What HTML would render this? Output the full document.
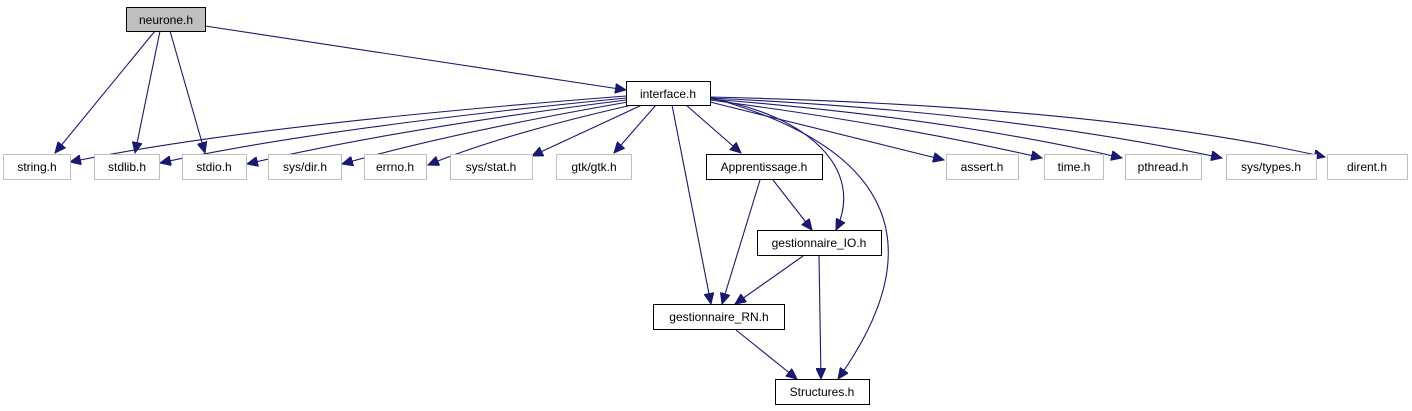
<!DOCTYPE html>
<html><head><meta charset="utf-8"><style>
html,body{margin:0;padding:0;background:#fff;}
svg{display:block;}
text{font-family:"Liberation Sans",sans-serif;font-size:12px;text-anchor:middle;fill:#000;}
</style></head><body>
<svg width="1412" height="411" viewBox="0 0 1412 411" xmlns="http://www.w3.org/2000/svg">
<defs>
<marker id="a" markerUnits="userSpaceOnUse" markerWidth="12" markerHeight="10" refX="11" refY="5" orient="auto">
<path d="M0,0 L11,5 L0,10 Z" fill="#191970" stroke="#191970"/>
</marker>
</defs>
<g fill="none" stroke="#191970" stroke-width="1.1" marker-end="url(#a)">
<path d="M155,31 L55,153"/>
<path d="M160,31 L135,153"/>
<path d="M170,31 L205,153"/>
<path d="M205,26 L626,90"/>
<path d="M626,96 Q250,125 70,162"/>
<path d="M626,98 Q320,128 160,163"/>
<path d="M626,100 Q390,130 247,164"/>
<path d="M628,102 Q450,133 342,164"/>
<path d="M632,105 Q500,135 428,165"/>
<path d="M642,105 L532,156"/>
<path d="M656,105 L614,153"/>
<path d="M672,105 L711,304"/>
<path d="M686,105 L741,153"/>
<path d="M708,98 C810,115 865,170 836,230"/>
<path d="M712,98 C900,150 930,250 838,379"/>
<path d="M710,102 L944,160"/>
<path d="M710,100 Q900,125 1042,158"/>
<path d="M710,99 Q950,118 1122,158"/>
<path d="M710,98 Q1010,112 1222,158"/>
<path d="M710,97 Q1100,106 1325,157"/>
<path d="M760,180 L722,304"/>
<path d="M773,180 L812,230"/>
<path d="M803,256 L735,304"/>
<path d="M819,256 L821,379"/>
<path d="M736,330 L797,379"/>
</g>
<g stroke-width="1">
<rect x="126.5" y="7.5" width="79" height="24" fill="#bfbfbf" stroke="#000"/>
<rect x="626.5" y="81.5" width="84" height="24" fill="#fff" stroke="#000"/>
<rect x="706.5" y="154.5" width="116" height="25" fill="#fff" stroke="#000"/>
<rect x="757.5" y="230.5" width="124" height="25" fill="#fff" stroke="#000"/>
<rect x="653.5" y="304.5" width="131" height="25" fill="#fff" stroke="#000"/>
<rect x="775.5" y="379.5" width="94" height="25" fill="#fff" stroke="#000"/>
<g fill="#fff" stroke="#bfbfbf">
<rect x="3.5" y="154.5" width="67" height="25"/>
<rect x="94.5" y="154.5" width="65" height="25"/>
<rect x="182.5" y="154.5" width="64" height="25"/>
<rect x="268.5" y="154.5" width="73" height="25"/>
<rect x="364.5" y="154.5" width="62" height="25"/>
<rect x="450.5" y="154.5" width="82" height="25"/>
<rect x="556.5" y="154.5" width="75" height="25"/>
<rect x="946.5" y="154.5" width="72" height="25"/>
<rect x="1044.5" y="154.5" width="59" height="25"/>
<rect x="1125.5" y="154.5" width="76" height="25"/>
<rect x="1226.5" y="154.5" width="90" height="25"/>
<rect x="1327.5" y="154.5" width="80" height="25"/>
</g>
</g>
<text x="166" y="24">neurone.h</text>
<text x="668" y="98">interface.h</text>
<text x="764" y="171">Apprentissage.h</text>
<text x="819" y="247">gestionnaire_IO.h</text>
<text x="719" y="321">gestionnaire_RN.h</text>
<text x="822" y="396">Structures.h</text>
<text x="37" y="171">string.h</text>
<text x="127" y="171">stdlib.h</text>
<text x="214" y="171">stdio.h</text>
<text x="305" y="171">sys/dir.h</text>
<text x="395" y="171">errno.h</text>
<text x="491" y="171">sys/stat.h</text>
<text x="594" y="171">gtk/gtk.h</text>
<text x="982" y="171">assert.h</text>
<text x="1074" y="171">time.h</text>
<text x="1163" y="171">pthread.h</text>
<text x="1271" y="171">sys/types.h</text>
<text x="1367" y="171">dirent.h</text>
</svg>
</body></html>
